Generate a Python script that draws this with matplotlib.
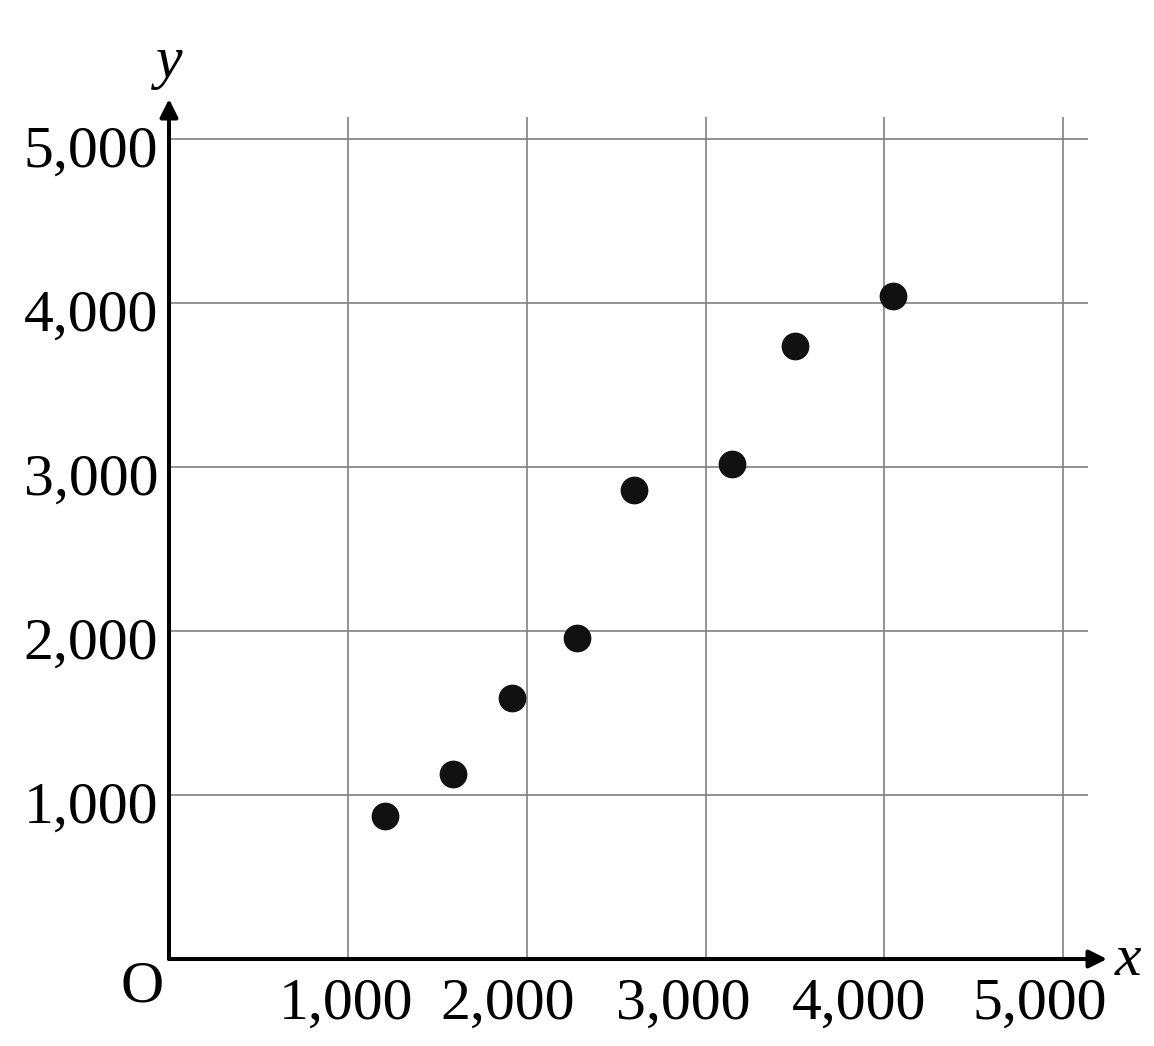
import matplotlib
matplotlib.use("Agg")
import matplotlib.pyplot as plt
from matplotlib.transforms import offset_copy

# data
x_vals = [1210, 1590, 1920, 2280, 2600, 3150, 3500, 4050]
y_vals = [875, 1130, 1590, 1960, 2860, 3020, 3740, 4045]
x_ticks = [1000, 2000, 3000, 4000, 5000]
y_ticks = [1000, 2000, 3000, 4000, 5000]
x_tick_labels = ["1,000", "2,000", "3,000", "4,000", "5,000"]
y_tick_labels = ["1,000", "2,000", "3,000", "4,000", "5,000"]

plt.rcParams['font.family'] = ['Liberation Serif', 'DejaVu Serif']
FS = 43
lim = 5244
grid_end = 5135

fig = plt.figure(figsize=(11.54, 10.46), dpi=100)
ax = fig.add_axes([169/1154, 87/1046, 938/1154, 860/1046])
ax.set_xlim(0, lim)
ax.set_ylim(0, lim)
for s in ax.spines.values():
    s.set_visible(False)
ax.set_xticks([])
ax.set_yticks([])

# grid
ax.vlines(x_ticks, 0, grid_end, color='#808080', lw=1.2, zorder=1)
ax.hlines(y_ticks, 0, grid_end, color='#808080', lw=1.2, zorder=1)

# axes with arrows
arrow = dict(arrowstyle='-|>', lw=2.9, color='black', mutation_scale=27,
             shrinkA=0, shrinkB=0)
ax.annotate('', xy=(lim, 0), xytext=(0, 0), arrowprops=arrow,
            annotation_clip=False, zorder=4)
ax.annotate('', xy=(0, lim), xytext=(0, 0), arrowprops=arrow,
            annotation_clip=False, zorder=4)

# points
ax.scatter(x_vals, y_vals, s=360, color='#111111', zorder=5, clip_on=False)

# tick labels
x_shift = [-2, -19, -22, -25, -24]
for xt, lab, dx in zip(x_ticks, x_tick_labels, x_shift):
    tr = offset_copy(ax.transData, fig=fig, x=dx, y=-60, units='dots')
    ax.text(xt, 0, lab, transform=tr, ha='center', va='baseline', fontsize=FS)
for yt, lab in zip(y_ticks, y_tick_labels):
    tr = offset_copy(ax.transData, fig=fig, x=-11, y=-28, units='dots')
    ax.text(0, yt, lab, transform=tr, ha='right', va='baseline', fontsize=FS)

# origin and axis names
ax.text(0, 0, 'O', transform=offset_copy(ax.transData, fig=fig, x=-27, y=-42, units='dots'),
        ha='center', va='baseline', fontsize=FS)
ax.text(lim, 0, 'x', transform=offset_copy(ax.transData, fig=fig, x=21, y=-16, units='dots'),
        ha='center', va='baseline', fontsize=FS, style='italic')
ax.text(0, lim, 'y', transform=offset_copy(ax.transData, fig=fig, x=0, y=22, units='dots'),
        ha='center', va='baseline', fontsize=FS, style='italic')

fig.savefig('out.png', dpi=100, facecolor='white')
